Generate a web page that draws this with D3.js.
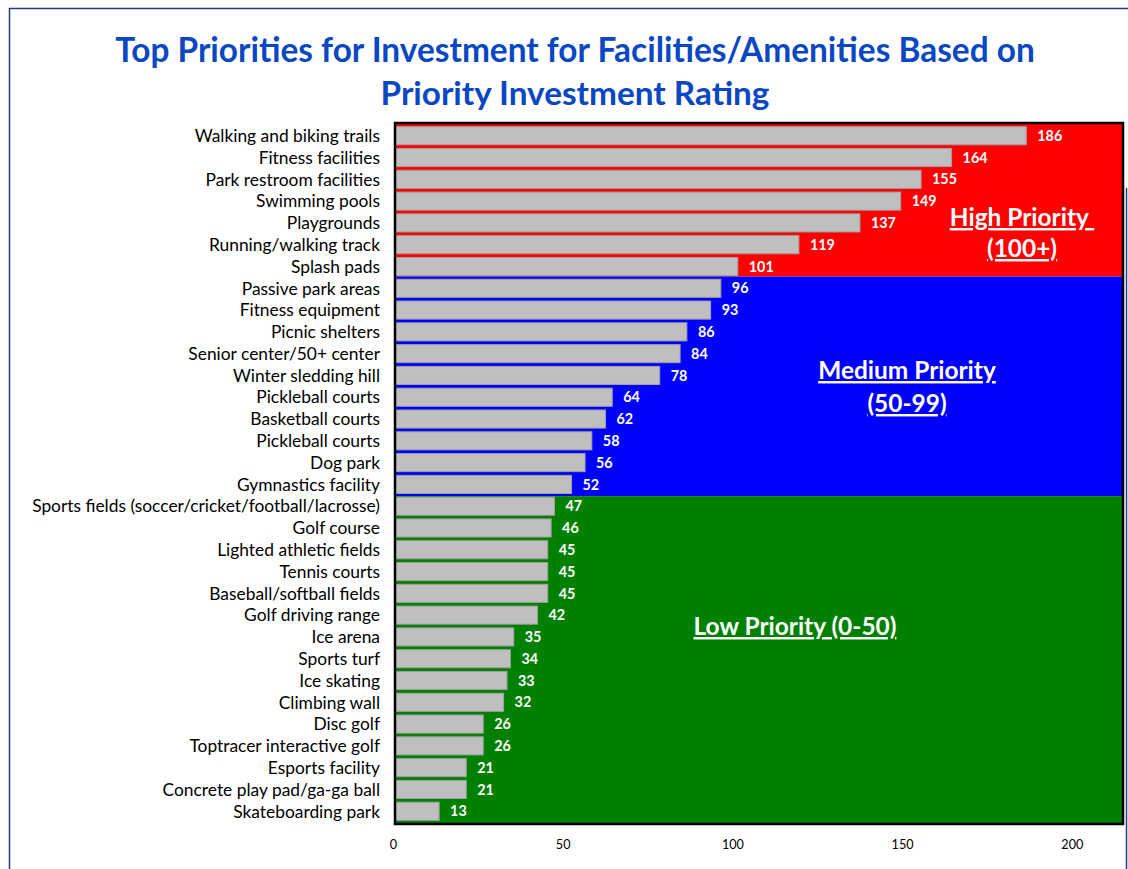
<!DOCTYPE html>
<html><head><meta charset="utf-8">
<script src="https://cdn.jsdelivr.net/npm/d3@7"></script>
<style>body{margin:0;background:#fff}svg{display:block}text{font-family:Lato,"Open Sans",sans-serif}</style>
</head><body>
<script>
const categories = ["Walking and biking trails","Fitness facilities","Park restroom facilities","Swimming pools","Playgrounds","Running/walking track","Splash pads","Passive park areas","Fitness equipment","Picnic shelters","Senior center/50+ center","Winter sledding hill","Pickleball courts","Basketball courts","Pickleball courts","Dog park","Gymnastics facility","Sports fields (soccer/cricket/football/lacrosse)","Golf course","Lighted athletic fields","Tennis courts","Baseball/softball fields","Golf driving range","Ice arena","Sports turf","Ice skating","Climbing wall","Disc golf","Toptracer interactive golf","Esports facility","Concrete play pad/ga-ga ball","Skateboarding park"];
const values = [186,164,155,149,137,119,101,96,93,86,84,78,64,62,58,56,52,47,46,45,45,45,42,35,34,33,32,26,26,21,21,13];
const tickValues = [0,50,100,150,200];
const titleLines = ["Top Priorities for Investment for Facilities/Amenities Based on","Priority Investment Rating"];
const zoneNames = [["High Priority ","(100+)"],["Medium Priority","(50-99)"],["Low Priority (0-50)"]];
const zoneColors = ["#ff0000","#0000ff","#008000"];
const zoneLastHigh = 6, zoneFirstLow = 17;

const W=1128,H=869;
const svg=d3.select("body").append("svg").attr("width",W).attr("height",H);
const L=395,R=1123,T=123,B=824;
const x=d3.scaleLinear().domain([0,214.5]).range([L,R]);
const y=d3.scaleBand().domain(d3.range(categories.length)).range([T,B]).padding(0.17);

function fit(sel,target){const n=sel.node();const fs=parseFloat(sel.attr("font-size"));const w=n.getComputedTextLength();sel.attr("font-size",fs*target/w);}

// outer frame
const fc="#203c84";
svg.append("line").attr("x1",9).attr("x2",W).attr("y1",8.5).attr("y2",8.5).attr("stroke",fc).attr("stroke-width",1.5);
svg.append("line").attr("x1",9.5).attr("x2",9.5).attr("y1",8).attr("y2",H).attr("stroke",fc).attr("stroke-width",1.5);
svg.append("line").attr("x1",1126.5).attr("x2",1126.5).attr("y1",188).attr("y2",H).attr("stroke",fc).attr("stroke-width",1.5);

// title
const tl=[62,105];
titleLines.forEach((t,i)=>{
  const s=svg.append("text").attr("x",575).attr("y",tl[i]).attr("text-anchor","middle").attr("font-weight","bold").attr("font-size",30).attr("fill","#0a47c2").text(t);
  fit(s,i===0?920:389);
});

// zones
const redBottom=y(zoneLastHigh)+y.bandwidth()+1;
const blueBottom=y(zoneFirstLow)-1;
const zb=[[T,redBottom],[redBottom,blueBottom],[blueBottom,B]];
zb.forEach((z,i)=>svg.append("rect").attr("x",L).attr("y",z[0]).attr("width",R-L).attr("height",z[1]-z[0]).attr("fill",zoneColors[i]));

// bars
svg.append("g").selectAll("rect").data(values).join("rect")
  .attr("x",x(0)).attr("y",(d,i)=>y(i)).attr("width",d=>x(d)-x(0)).attr("height",y.bandwidth())
  .attr("fill","#bfbfbf").attr("stroke","#a0a0a0").attr("stroke-width",1);

// value labels
const vl=svg.append("g").selectAll("text").data(values).join("text")
  .attr("x",d=>x(d)+11).attr("y",(d,i)=>y(i)+y.bandwidth()/2).attr("dy","0.36em")
  .attr("fill","#fff").attr("font-weight","bold").attr("font-size",14).text(d=>d);
{const s=d3.select(vl.nodes()[0]);const fs=14*25/s.node().getComputedTextLength();vl.attr("font-size",fs);}

// category labels
const cl=svg.append("g").selectAll("text").data(categories).join("text")
  .attr("x",380).attr("y",(d,i)=>y(i)+y.bandwidth()/2).attr("dy","0.36em").attr("text-anchor","end")
  .attr("fill","#000").attr("font-size",15).text(d=>d);
{const s=d3.select(cl.nodes()[17]);const fs=15*348/s.node().getComputedTextLength();cl.attr("font-size",fs);}

// plot border
svg.append("rect").attr("x",L).attr("y",T).attr("width",R-L).attr("height",B-T).attr("fill","none").attr("stroke","#000").attr("stroke-width",2.5);

// axis
const ax=svg.append("g").attr("transform",`translate(-2,${B+13})`).call(d3.axisBottom(x).tickValues(tickValues).tickSize(0));
ax.select(".domain").remove();
ax.selectAll("text").attr("font-size",12).attr("font-family","Lato,'Open Sans',sans-serif").attr("fill","#000");
{const nodes=ax.selectAll("text").nodes();const last=nodes[nodes.length-1];const fs=12*22/last.getComputedTextLength();ax.selectAll("text").attr("font-size",fs);}

// zone labels
const zl=[
  {lines:zoneNames[0],cx:1022,ys:[226,257],w:142},
  {lines:zoneNames[1],cx:907,ys:[379,412],w:179},
  {lines:zoneNames[2],cx:795,ys:[635],w:203}
];
zl.forEach((z,k)=>{
  z.lines.forEach((t,i)=>{
    const s=svg.append("text").attr("x",z.cx).attr("y",z.ys[i]).attr("text-anchor","middle")
      .attr("font-weight","bold").attr("font-size",22).attr("fill","#fff")
      .attr("text-decoration","underline").style("white-space","pre").text(t);
    if(k===2&&i===0){fit(s,z.w);}
  });
});
{const last=svg.selectAll("text").filter(function(){return d3.select(this).attr("text-decoration")==="underline";});
 const fs=+d3.select(last.nodes()[4]).attr("font-size");last.attr("font-size",fs);}
</script>
</body></html>
